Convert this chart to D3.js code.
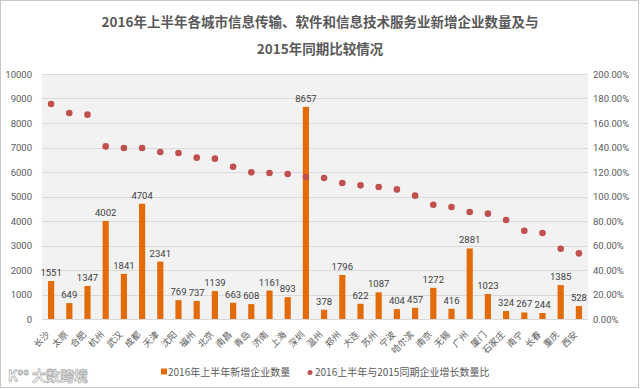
<!DOCTYPE html>
<html>
<head>
<meta charset="utf-8">
<script src="https://cdn.jsdelivr.net/npm/d3@7"></script>
<style>
  body { margin: 0; background: #fff; }
  svg { display: block; font-family: "Noto Sans CJK SC", "Noto Sans", sans-serif; }
</style>
</head>
<body>
<div id="chart"></div>
<script>
// Data
const cities = ["长沙","太原","合肥","杭州","武汉","成都","天津","沈阳","福州","北京",
  "南昌","青岛","济南","上海","深圳","温州","郑州","大连","苏州","宁波",
  "哈尔滨","南京","无锡","广州","厦门","石家庄","南宁","长春","重庆","西安"];
const newFirms = [1551, 649, 1347, 4002, 1841, 4704, 2341, 769, 737, 1139,
  663, 608, 1161, 893, 8657, 378, 1796, 622, 1087, 404,
  457, 1272, 416, 2881, 1023, 324, 267, 244, 1385, 528];
const growthPct = [175.5, 168.2, 166.8, 140.9, 139.6, 139.6, 136.3, 135.5, 131.7, 130.9,
  124.3, 119.7, 119.2, 118.4, 115.9, 115.1, 111.0, 109.1, 107.8, 105.8,
  100.7, 93.3, 91.4, 87.3, 86.0, 80.8, 72.1, 70.2, 57.4, 53.6];
const leftTicks = [0, 1000, 2000, 3000, 4000, 5000, 6000, 7000, 8000, 9000, 10000];
const rightTicks = [0, 20, 40, 60, 80, 100, 120, 140, 160, 180, 200];
const titleLines = ["2016年上半年各城市信息传输、软件和信息技术服务业新增企业数量及与", "2015年同期比较情况"];
const legendLabels = ["2016年上半年新增企业数量", "2016上半年与2015同期企业增长数量比"];

const width = 640, height = 389;
const margin = { top: 74, right: 52, bottom: 70, left: 42 };
const innerWidth = width - margin.left - margin.right;
const innerHeight = height - margin.top - margin.bottom;

const barColor = "#e36c09";
const dotColor = "#c0504d";
const textColor = "#595959";

const svg = d3.select("#chart")
  .append("svg")
    .attr("width", width)
    .attr("height", height);

// outer frame
svg.append("rect")
  .attr("x", 0.5).attr("y", 0.5)
  .attr("width", width - 2).attr("height", height - 2)
  .attr("fill", "#fff")
  .attr("stroke", "#c8c8c8");

// Title
svg.append("g")
  .selectAll("text")
  .data(titleLines)
  .join("text")
    .attr("x", width / 2)
    .attr("y", (d, i) => 27 + i * 27)
    .attr("text-anchor", "middle")
    .attr("font-size", 13.5)
    .attr("font-weight", "bold")
    .attr("fill", textColor)
    .text(d => d);

const innerChart = svg.append("g")
  .attr("transform", `translate(${margin.left}, ${margin.top})`);

// Scales
const xScale = d3.scaleBand()
  .domain(cities)
  .range([0, innerWidth])
  .paddingInner(0.66)
  .paddingOuter(0.33);
const yScale = d3.scaleLinear()
  .domain([0, 10000])
  .range([innerHeight, 0]);
const yScaleRight = d3.scaleLinear()
  .domain([0, 200])
  .range([innerHeight, 0]);

// Plot background
innerChart.append("rect")
  .attr("width", innerWidth)
  .attr("height", innerHeight)
  .attr("fill", "#f2f2f2");

// Gridlines
innerChart.append("g")
  .selectAll("line")
  .data(leftTicks)
  .join("line")
    .attr("x1", 0).attr("x2", innerWidth)
    .attr("y1", d => Math.round(yScale(d)) + 0.5)
    .attr("y2", d => Math.round(yScale(d)) + 0.5)
    .attr("stroke", "#d9d9d9");

// Left axis
const leftAxis = innerChart.append("g")
  .call(d3.axisLeft(yScale).tickValues(leftTicks).tickSize(0).tickPadding(10).tickFormat(d3.format("d")));
leftAxis.select(".domain").remove();
leftAxis.selectAll("text").attr("font-size", 9.5).attr("fill", textColor).attr("font-family", "Roboto, 'Noto Sans', sans-serif");

// Right axis
const rightAxis = innerChart.append("g")
  .attr("transform", `translate(${innerWidth}, 0)`)
  .call(d3.axisRight(yScaleRight).tickValues(rightTicks).tickSize(0).tickPadding(5).tickFormat(d => d.toFixed(2) + "%"));
rightAxis.select(".domain").remove();
rightAxis.selectAll("text").attr("font-size", 9.5).attr("fill", textColor).attr("font-family", "Roboto, 'Noto Sans', sans-serif");

// Bars
innerChart.append("g")
  .selectAll("rect")
  .data(newFirms)
  .join("rect")
    .attr("x", (d, i) => xScale(cities[i]))
    .attr("y", d => yScale(d))
    .attr("width", xScale.bandwidth())
    .attr("height", d => innerHeight - yScale(d))
    .attr("fill", barColor);

// Bar labels
innerChart.append("g")
  .selectAll("text")
  .data(newFirms)
  .join("text")
    .attr("x", (d, i) => xScale(cities[i]) + xScale.bandwidth() / 2)
    .attr("y", d => yScale(d) - 5)
    .attr("text-anchor", "middle")
    .attr("font-size", 9.5)
    .attr("font-family", "Roboto, 'Noto Sans', sans-serif")
    .attr("fill", "#404040")
    .text(d => d);

// Growth dots
innerChart.append("g")
  .selectAll("circle")
  .data(growthPct)
  .join("circle")
    .attr("cx", (d, i) => xScale(cities[i]) + xScale.bandwidth() / 2)
    .attr("cy", d => yScaleRight(d))
    .attr("r", 3.3)
    .attr("fill", dotColor);

// X labels (rotated)
innerChart.append("g")
  .selectAll("text")
  .data(cities)
  .join("text")
    .attr("transform", d => `translate(${xScale(d) + xScale.bandwidth() / 2 - 3}, ${innerHeight + 14}) rotate(-45)`)
    .attr("text-anchor", "end")
    .attr("dy", "0.35em")
    .attr("font-size", 9)
    .attr("fill", textColor)
    .text(d => d);

// Legend
const legend = svg.append("g").attr("transform", "translate(0, 372)");
legend.append("rect")
  .attr("x", 161).attr("y", -3.5)
  .attr("width", 6).attr("height", 6)
  .attr("fill", barColor);
legend.append("text")
  .attr("x", 168).attr("y", 0)
  .attr("dy", "0.35em")
  .attr("font-size", 10)
  .attr("fill", textColor)
  .text(legendLabels[0]);
legend.append("circle")
  .attr("cx", 310).attr("cy", 0.5)
  .attr("r", 2.5)
  .attr("fill", dotColor);
legend.append("text")
  .attr("x", 315).attr("y", 0)
  .attr("dy", "0.35em")
  .attr("font-size", 10)
  .attr("fill", textColor)
  .text(legendLabels[1]);

// Watermark
svg.append("text")
  .attr("x", 8).attr("y", 381)
  .attr("font-size", 14)
  .attr("font-weight", "bold")
  .attr("fill", "#fff")
  .attr("stroke", "#b0b0b0")
  .attr("stroke-width", 0.8)
  .text("K°° 大数跨境");
</script>
</body>
</html>
